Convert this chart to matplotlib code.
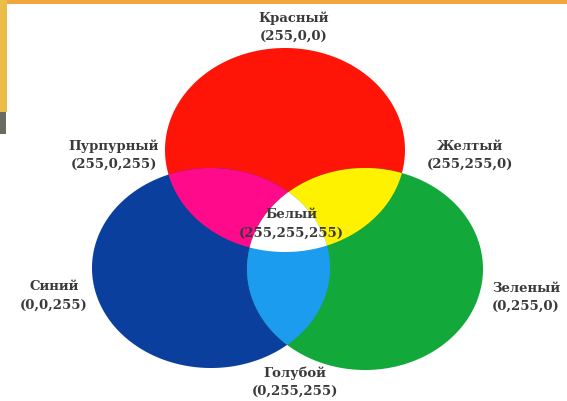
import numpy as np
import matplotlib
matplotlib.use("Agg")
import matplotlib.pyplot as plt
from matplotlib.patches import Polygon, Rectangle

# circles: name -> (cx, cy, rx, ry) in pixel units of the picture
circle_names = ["red", "blue", "green"]
circle_centers = [(285, 150), (211, 268), (365, 269)]
circle_radii = [(120, 102), (119, 100), (118, 101)]

# region colours
region_colors = {
    ("red",): "#ff1408",
    ("blue",): "#0a3f9e",
    ("green",): "#12a83a",
    ("red", "blue"): "#ff0a8a",
    ("red", "green"): "#fff200",
    ("blue", "green"): "#1c9cef",
    ("red", "blue", "green"): "#ffffff",
}

# labels
label_names = ["Красный", "Пурпурный", "Желтый", "Белый", "Синий", "Зеленый", "Голубой"]
label_codes = ["(255,0,0)", "(255,0,255)", "(255,255,0)", "(255,255,255)",
               "(0,0,255)", "(0,255,0)", "(0,255,255)"]
label_pos = [(294, 18), (114, 146), (470, 146), (291, 215),
             (54, 287), (526, 288), (295, 373)]


def ellipse_pts(c, r, n=360):
    t = np.linspace(0, 2 * np.pi, n, endpoint=False)
    return np.column_stack([c[0] + r[0] * np.cos(t), c[1] + r[1] * np.sin(t)])


def clip(subject, clipper):
    # Sutherland-Hodgman, clipper is convex
    out = list(subject)
    m = len(clipper)
    for i in range(m):
        a, b = clipper[i], clipper[(i + 1) % m]
        inp, out = out, []
        if not inp:
            break
        def inside(p):
            return (b[0] - a[0]) * (p[1] - a[1]) - (b[1] - a[1]) * (p[0] - a[0]) >= 0
        def cross(p, q):
            d1 = q - p
            d2 = b - a
            den = d1[0] * d2[1] - d1[1] * d2[0]
            s = ((a[0] - p[0]) * d2[1] - (a[1] - p[1]) * d2[0]) / den
            return p + s * d1
        s = inp[-1]
        for e in inp:
            if inside(e):
                if not inside(s):
                    out.append(cross(s, e))
                out.append(e)
            elif inside(s):
                out.append(cross(s, e))
            s = e
    return np.array(out)


shapes = {n: ellipse_pts(c, r) for n, c, r in zip(circle_names, circle_centers, circle_radii)}

fig = plt.figure(figsize=(5.67, 4.01), dpi=100)
ax = fig.add_axes([0, 0, 1, 1])
ax.set_xlim(0, 567)
ax.set_ylim(401, 0)
ax.axis("off")

# slide frame bits
ax.add_patch(Rectangle((0, 0), 567, 4, color="#f2a640", lw=0))
ax.add_patch(Rectangle((0, 0), 7, 112, color="#ecbc48", lw=0))
ax.add_patch(Rectangle((0, 112), 6, 22, color="#6a6a62", lw=0))

for key, col in region_colors.items():
    poly = shapes[key[0]]
    for other in key[1:]:
        poly = clip(poly, shapes[other])
    ax.add_patch(Polygon(poly, closed=True, color=col, lw=0))

for name, code, (x, y) in zip(label_names, label_codes, label_pos):
    ax.text(x, y, name, ha="center", va="center", fontsize=9.5, fontweight="bold",
            family="DejaVu Serif", color="#3a3a3a")
    ax.text(x, y + 18, code, ha="center", va="center", fontsize=9.5, fontweight="bold",
            family="DejaVu Serif", color="#3a3a3a")

fig.savefig("out.png", dpi=100)
